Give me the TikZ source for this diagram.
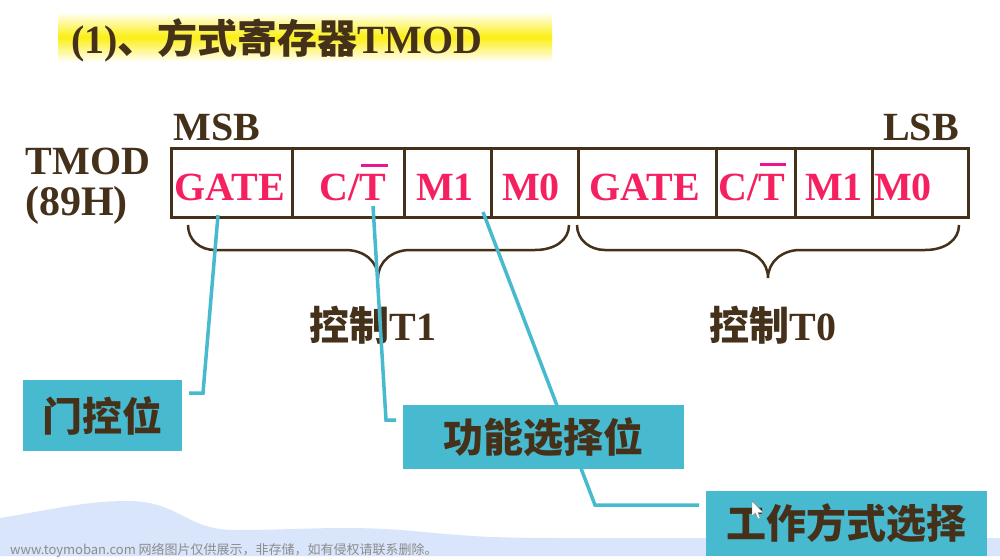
\documentclass[tikz,border=0pt]{standalone}
\usepackage{fontspec}
\setmainfont{Liberation Serif}
\newfontfamily\cjk{Noto Sans CJK SC}
\definecolor{brownink}{HTML}{45301A}
\definecolor{pinkink}{HTML}{F5205F}
\definecolor{tealbox}{HTML}{48BACF}
\definecolor{wavefill}{HTML}{D9E5FB}
\definecolor{bandyellow}{HTML}{FBEF14}
\tikzset{
  head/.style={inner sep=0pt,text=brownink,font=\fontsize{40}{44}\selectfont\bfseries},
  bitname/.style={inner sep=0pt,text=pinkink,font=\fontsize{40}{44}\selectfont\bfseries},
  tagbox/.style={inner sep=0pt,fill=tealbox,text=brownink,font=\fontsize{40}{44}\selectfont\bfseries\cjk},
  leader/.style={draw=tealbox,line width=3.5pt},
  regline/.style={draw=brownink,line width=3pt},
  overbar/.style={draw=magenta!90!pink,line width=3pt}
}
\begin{document}
\begin{tikzpicture}[x=1pt,y=-1pt]
\useasboundingbox (0,0) rectangle (1000,559);
\path[fill=white] (0,0) rectangle (1000,559);
% wave at the bottom
\path[fill=wavefill] (0,518) .. controls (50,510) and (85,501) .. (127,501) .. controls (180,501) and (185,530) .. (235,530) .. controls (280,530) and (310,528) .. (344,528) .. controls (390,528) and (410,531) .. (446,534) .. controls (480,537) and (510,538) .. (560,538) -- (1000,538) -- (1000,556) -- (0,556) -- cycle;
\node[inner sep=0pt,anchor=west,text=black!45,font=\fontsize{13}{15}\selectfont\cjk] (mark) at (10,550) {www.toymoban.com 网络图片仅供展示，非存储，如有侵权请联系删除。};

% title
\path[top color=white,bottom color=white,middle color=bandyellow] (58,12) rectangle (552,62);
\node[head,anchor=west] (title) at (71,40) {(1){\cjk 、方式寄存器}TMOD};

% register
\path[regline] (171,148) rectangle (968,217);
\path[regline] (292,148)--(292,217);
\path[regline] (404,148)--(404,217);
\path[regline] (491,148)--(491,217);
\path[regline] (578,148)--(578,217);
\path[regline] (716,148)--(716,217);
\path[regline] (795,148)--(795,217);
\path[regline] (872,148)--(872,217);

\node[head] (msb) at (217,127) {MSB};
\node[head] (lsb) at (921,127) {LSB};
\node[head] (tmod) at (88,161) {TMOD};
\node[head,font=\fontsize{42}{46}\selectfont\bfseries] (addr) at (76.5,205) {(89H)};

\node[bitname] (gateone) at (230,187) {GATE};
\node[bitname] (ctone) at (353,187) {C/T};
\node[bitname] (mhione) at (445,187) {M1};
\node[bitname] (mloone) at (531,187) {M0};
\node[bitname] (gatetwo) at (645,187) {GATE};
\node[bitname] (cttwo) at (752,187) {C/T};
\node[bitname] (mhitwo) at (834,187) {M1};
\node[bitname] (mlotwo) at (903,187) {M0};
\path[overbar] (361,165)--(388,165);
\path[overbar] (760,164)--(786,164);

% braces
\path[regline,line width=2.5pt] (188,225) .. controls (188,240) and (200,250) .. (215,250) -- (345,250) .. controls (365,250) and (378,262) .. (378,278) .. controls (378,262) and (392,250) .. (410,250) -- (535,250) .. controls (555,250) and (569,240) .. (569,225);
\path[regline,line width=2.5pt] (577,225) .. controls (577,240) and (590,250) .. (605,250) -- (735,250) .. controls (755,250) and (768,262) .. (768,278) .. controls (768,262) and (782,250) .. (800,250) -- (925,250) .. controls (945,250) and (959,240) .. (959,225);

\node[head] (ctrlone) at (373,325) {{\cjk 控制}T1};
\node[head] (ctrltwo) at (773,325) {{\cjk 控制}T0};

% leaders
\coordinate (gatetip) at (218,215);
\coordinate (gateend) at (189,393);
\coordinate (cttip) at (373,206);
\coordinate (ctend) at (396,420);
\coordinate (modetip) at (483,212);
\coordinate (modeend) at (699,505);
\draw[leader] (gatetip)--(203,393)--(gateend);
\draw[leader] (cttip)--(386,420)--(ctend);
\draw[leader] (modetip)--(595,505)--(modeend);

% boxes
\node[tagbox,minimum width=159pt,minimum height=71pt] (gatebox) at (102,415.5) {门控位};
\node[tagbox,minimum width=281pt,minimum height=64pt] (funcbox) at (543.5,437) {功能选择位};
\node[tagbox,minimum width=281pt,minimum height=65pt] (modebox) at (846.5,523.5) {工作方式选择};

% pointer
\path[fill=white,draw=black!50,line width=0.4pt] (752,501)--(752,516)--(755.5,513)--(758,519)--(760,518)--(758,512.5)--(763,512.5)--(752,501);
\end{tikzpicture}
\end{document}
